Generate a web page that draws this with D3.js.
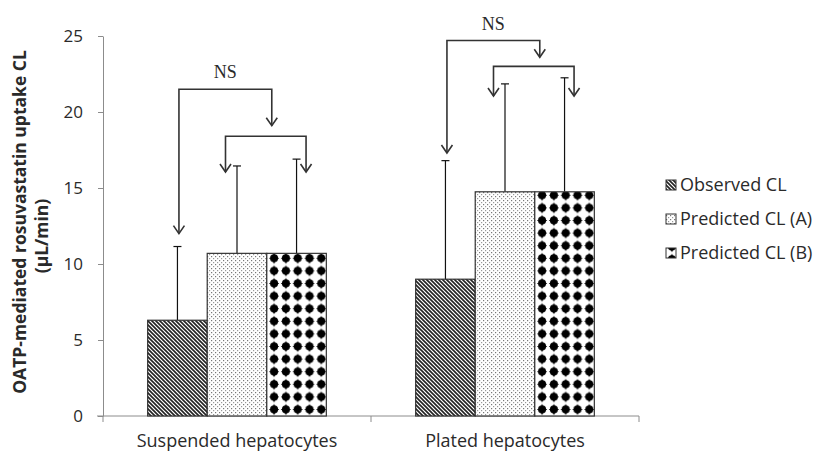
<!DOCTYPE html>
<html>
<head>
<meta charset="utf-8">
<script src="https://cdn.jsdelivr.net/npm/d3@7"></script>
<style>
  body { margin: 0; background: #fff; }
  svg text { font-family: "Open Sans", "Liberation Sans", sans-serif; fill: #2a2a2a; }
  .axis path, .axis line { stroke: #8c8c8c; }
  .axis text { font-size: 17px; }
</style>
</head>
<body>
<div id="chart"></div>
<script>
// data
var categories = ["Suspended hepatocytes", "Plated hepatocytes"];
var seriesNames = ["Observed CL", "Predicted CL (A)", "Predicted CL (B)"];
var observed = [6.3, 9.0];
var predictedA = [10.7, 14.75];
var predictedB = [10.7, 14.75];
var observedSD = [4.85, 7.8];
var predictedASD = [5.75, 7.1];
var predictedBSD = [6.2, 7.5];
var yTicks = [0, 5, 10, 15, 20, 25];

// NS comparison brackets (values in uL/min units)
var outerTop = [21.5, 24.7];
var outerLeftTip = [12.0, 17.3];
var outerRightTip = [19.1, 23.6];
var innerTop = [18.4, 23.0];
var innerTip = [16.05, 21.05];

var width = 818, height = 453,
    margin = {top: 36, left: 103, bottom: 37, right: 178};

var svg = d3.select("#chart").append("svg")
    .attr("width", width)
    .attr("height", height);

var defs = svg.append("defs");

// hatch patterns
var pStripe = defs.append("pattern")
    .attr("id", "pat-obs")
    .attr("patternUnits", "userSpaceOnUse")
    .attr("width", 4).attr("height", 4);
pStripe.append("rect").attr("width", 4).attr("height", 4).attr("fill", "#fff");
pStripe.append("path")
    .attr("d", "M-1,-1 L5,5 M-1,3 L1,5 M3,-1 L5,1")
    .attr("stroke", "#222").attr("stroke-width", 1.6);

var pDots = defs.append("pattern")
    .attr("id", "pat-a")
    .attr("patternUnits", "userSpaceOnUse")
    .attr("width", 4).attr("height", 4);
pDots.append("rect").attr("width", 4).attr("height", 4).attr("fill", "#fff");
pDots.append("rect").attr("x", 0).attr("y", 0).attr("width", 1.2).attr("height", 1.2).attr("fill", "#777");
pDots.append("rect").attr("x", 2).attr("y", 2).attr("width", 1.2).attr("height", 1.2).attr("fill", "#999");

var pDiam = defs.append("pattern")
    .attr("id", "pat-b")
    .attr("patternUnits", "userSpaceOnUse")
    .attr("width", 11.8).attr("height", 12.6);
pDiam.append("rect").attr("width", 11.8).attr("height", 12.6).attr("fill", "#fff");
pDiam.append("path")
    .attr("d", "M5.9,0.4 Q7,4.6 11,6.3 Q7,8 5.9,12.2 Q4.8,8 0.8,6.3 Q4.8,4.6 5.9,0.4 Z")
    .attr("fill", "#000");
pDiam.append("circle").attr("cx", 5.9).attr("cy", 6.3).attr("r", 4).attr("fill", "#000");

var fills = ["url(#pat-obs)", "url(#pat-a)", "url(#pat-b)"];

// scales
var x0 = d3.scaleBand()
    .domain(categories)
    .range([margin.left, width - margin.right - 1])
    .padding(0);

var x1 = d3.scaleBand()
    .domain(seriesNames)
    .range([0, x0.bandwidth()])
    .paddingInner(0)
    .paddingOuter(0.75);

var y = d3.scaleLinear()
    .domain([0, 25])
    .range([height - margin.bottom, margin.top]);

// axes
svg.append("g")
    .attr("class", "y axis")
    .attr("transform", "translate(" + margin.left + ",0)")
    .call(d3.axisLeft(y).tickValues(yTicks).tickSize(5).tickPadding(15).tickSizeOuter(0))
    .call(function (g) { g.selectAll("text").attr("dy", "0.35em"); });

var xAxis = svg.append("g")
    .attr("class", "x axis")
    .attr("transform", "translate(0," + y(0) + ")");
xAxis.append("line")
    .attr("x1", x0.range()[0] - 6).attr("x2", x0.range()[1])
    .attr("y1", 0).attr("y2", 0);
xAxis.selectAll("line.tick")
    .data([x0.range()[0], x0(categories[1]), x0.range()[1]])
    .enter().append("line")
    .attr("class", "tick")
    .attr("x1", function (d) { return d; })
    .attr("x2", function (d) { return d; })
    .attr("y1", 0).attr("y2", 6);
xAxis.selectAll("text")
    .data(categories)
    .enter().append("text")
    .attr("x", function (d) { return x0(d) + x0.bandwidth() / 2; })
    .attr("y", 31)
    .attr("text-anchor", "middle")
    .style("font-size", "18px")
    .text(function (d) { return d; });

// y label, two centred lines
var yMid = margin.top + (y(0) - margin.top) / 2;
svg.append("text")
    .attr("transform", "translate(26," + (yMid - 4) + ") rotate(-90)")
    .attr("text-anchor", "middle")
    .style("font-size", "17.5px")
    .style("font-weight", "bold")
    .text("OATP-mediated rosuvastatin uptake CL");
svg.append("text")
    .attr("transform", "translate(48," + (yMid + 10) + ") rotate(-90)")
    .attr("text-anchor", "middle")
    .style("font-size", "17.5px")
    .style("font-weight", "bold")
    .text("(\u00b5L/min)");

// bars
var rows = categories.map(function (c, i) {
    return {
        cat: c,
        vals: [
            {s: seriesNames[0], v: observed[i], sd: observedSD[i], k: 0},
            {s: seriesNames[1], v: predictedA[i], sd: predictedASD[i], k: 1},
            {s: seriesNames[2], v: predictedB[i], sd: predictedBSD[i], k: 2}
        ]
    };
});

var groups = svg.selectAll("g.group")
    .data(rows)
    .enter().append("g")
    .attr("class", "group")
    .attr("transform", function (d) { return "translate(" + x0(d.cat) + ",0)"; });

// error bars (upper only)
groups.selectAll("line.err")
    .data(function (d) { return d.vals; })
    .enter().append("line")
    .attr("class", "err")
    .attr("x1", function (d) { return x1(d.s) + x1.bandwidth() / 2; })
    .attr("x2", function (d) { return x1(d.s) + x1.bandwidth() / 2; })
    .attr("y1", function (d) { return y(d.v); })
    .attr("y2", function (d) { return y(d.v + d.sd); })
    .attr("stroke", "#111").attr("stroke-width", 1.2);

groups.selectAll("line.cap")
    .data(function (d) { return d.vals; })
    .enter().append("line")
    .attr("class", "cap")
    .attr("x1", function (d) { return x1(d.s) + x1.bandwidth() / 2 - 4; })
    .attr("x2", function (d) { return x1(d.s) + x1.bandwidth() / 2 + 4; })
    .attr("y1", function (d) { return y(d.v + d.sd); })
    .attr("y2", function (d) { return y(d.v + d.sd); })
    .attr("stroke", "#111").attr("stroke-width", 1.2);

groups.selectAll("rect.bar")
    .data(function (d) { return d.vals; })
    .enter().append("rect")
    .attr("class", "bar")
    .attr("x", function (d) { return x1(d.s); })
    .attr("y", function (d) { return y(d.v); })
    .attr("width", x1.bandwidth())
    .attr("height", function (d) { return y(0) - y(d.v); })
    .attr("fill", function (d) { return fills[d.k]; })
    .attr("stroke", "#333").attr("stroke-width", 1.2);

// NS brackets
var bw = x1.bandwidth();
function arrowHead(g, xt, yt) {
    g.append("path")
        .attr("d", "M" + (xt - 5.5) + "," + (yt - 8) + " L" + xt + "," + yt + " L" + (xt + 5.5) + "," + (yt - 8))
        .attr("fill", "none").attr("stroke", "#333").attr("stroke-width", 1.6);
}

categories.forEach(function (c, i) {
    var g = svg.append("g").attr("class", "ns");
    var xl = x0(c) + x1(seriesNames[0]) + bw / 2 + 1.5;
    var xr = x0(c) + x1(seriesNames[2]) + 5;
    var xa = x0(c) + x1(seriesNames[1]) + bw / 2 - 11.5;
    var xb = x0(c) + x1(seriesNames[2]) + bw / 2 + 9.5;

    g.append("path")
        .attr("d", "M" + xl + "," + y(outerLeftTip[i]) + " V" + y(outerTop[i]) + " H" + xr + " V" + y(outerRightTip[i]))
        .attr("fill", "none").attr("stroke", "#333").attr("stroke-width", 1.6);
    arrowHead(g, xl, y(outerLeftTip[i]));
    arrowHead(g, xr, y(outerRightTip[i]));

    g.append("path")
        .attr("d", "M" + xa + "," + y(innerTip[i]) + " V" + y(innerTop[i]) + " H" + xb + " V" + y(innerTip[i]))
        .attr("fill", "none").attr("stroke", "#333").attr("stroke-width", 1.6);
    arrowHead(g, xa, y(innerTip[i]));
    arrowHead(g, xb, y(innerTip[i]));

    g.append("text")
        .attr("x", (xl + xr) / 2)
        .attr("y", y(outerTop[i]) - 11)
        .attr("text-anchor", "middle")
        .style("font-family", "'Liberation Serif', 'DejaVu Serif', serif")
        .style("font-size", "18px")
        .text("NS");
});

// legend
var legend = svg.append("g")
    .attr("class", "legend")
    .attr("transform", "translate(666,185)");

var li = legend.selectAll("g")
    .data(seriesNames)
    .enter().append("g")
    .attr("transform", function (d, i) { return "translate(0," + (i * 34) + ")"; });

li.append("rect")
    .attr("x", 0).attr("y", -5)
    .attr("width", 10).attr("height", 10)
    .attr("fill", function (d, i) { return fills[i]; })
    .attr("stroke", "#333").attr("stroke-width", 1);

li.append("text")
    .attr("x", 14)
    .attr("y", 0)
    .attr("dy", "0.35em")
    .style("font-size", "18px")
    .text(function (d) { return d; });
</script>
</body>
</html>
